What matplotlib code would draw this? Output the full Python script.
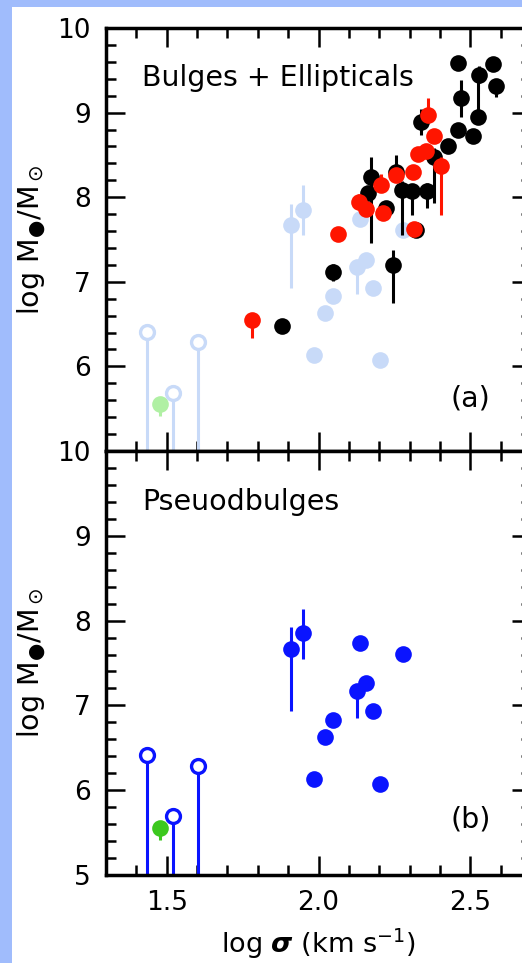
import matplotlib
matplotlib.use("Agg")
import matplotlib.pyplot as plt
from matplotlib.patches import Rectangle
from matplotlib.ticker import MultipleLocator

# ---- data: log sigma (km/s), log M_BH (Msun), lower/upper errors ----
# classical bulges
bulge_x = [2.458, 2.574, 2.530, 2.584, 2.469, 2.524, 2.337, 2.458, 2.508, 2.425, 2.380,
           2.172, 2.162, 2.255, 2.276, 2.309, 2.358, 2.222, 2.320, 2.047, 2.244, 1.879]
bulge_y = [9.59, 9.57, 9.45, 9.31, 9.17, 8.95, 8.89, 8.80, 8.72, 8.60, 8.48,
           8.24, 8.05, 8.30, 8.09, 8.07, 8.07, 7.87, 7.61, 7.11, 7.20, 6.48]
bulge_lo = [0.03, 0.05, 0.10, 0.12, 0.22, 0.05, 0.15, 0.05, 0.05, 0.05, 0.55,
            0.78, 0.05, 0.10, 0.54, 0.28, 0.20, 0.05, 0.05, 0.10, 0.45, 0.05]
bulge_hi = [0.03, 0.05, 0.10, 0.05, 0.22, 0.45, 0.15, 0.05, 0.05, 0.05, 0.10,
            0.24, 0.05, 0.20, 0.10, 0.05, 0.10, 0.05, 0.05, 0.10, 0.18, 0.05]

# ellipticals
ell_x = [2.361, 2.379, 2.328, 2.354, 2.403, 2.310, 2.255, 2.206, 2.134, 2.156,
         2.211, 2.315, 2.063, 1.782]
ell_y = [8.97, 8.72, 8.51, 8.55, 8.37, 8.30, 8.26, 8.15, 7.94, 7.86,
         7.81, 7.63, 7.57, 6.55]
ell_lo = [0.05, 0.05, 0.05, 0.05, 0.58, 0.05, 0.05, 0.05, 0.05, 0.05,
          0.05, 0.05, 0.05, 0.22]
ell_hi = [0.20, 0.05, 0.05, 0.05, 0.10, 0.05, 0.05, 0.12, 0.10, 0.05,
          0.05, 0.05, 0.05, 0.05]

# pseudobulges
pseudo_x = [1.911, 1.949, 2.137, 2.277, 2.126, 2.156, 2.180, 2.049, 2.022, 1.984, 2.203]
pseudo_y = [7.67, 7.85, 7.74, 7.61, 7.17, 7.26, 6.93, 6.83, 6.63, 6.13, 6.07]
pseudo_lo = [0.74, 0.30, 0.03, 0.03, 0.32, 0.03, 0.03, 0.03, 0.03, 0.03, 0.03]
pseudo_hi = [0.25, 0.29, 0.03, 0.03, 0.03, 0.03, 0.03, 0.03, 0.03, 0.03, 0.03]

# upper limits
limit_x = [1.434, 1.522, 1.604]
limit_y = [6.41, 5.69, 6.29]

# single green object
green_x = [1.478]
green_y = [5.56]
green_lo = [0.15]
green_hi = [0.03]

XLIM = (1.3, 2.7)
YLIM = (5, 10)

BLACK = "#000000"
RED = "#ff1500"
BLUE = "#0a14ff"
PALE_BLUE = "#c8daf8"
GREEN = "#3cc81e"
PALE_GREEN = "#b0f0a4"

FS = 19
MS = 12

plt.rcParams["font.family"] = ["DejaVu Sans"]
plt.rcParams["mathtext.fontset"] = "dejavusans"

W, H = 522, 963
fig = plt.figure(figsize=(W / 100, H / 100), dpi=100)
fig.patch.set_facecolor("#a0bcfc")
fig.add_artist(Rectangle((12 / W, 0), 1, 1 - 7 / H, transform=fig.transFigure,
                         facecolor="white", edgecolor="none", zorder=-5))

left = 106 / W
width = (531 - 106) / W
ax_top = fig.add_axes([left, 1 - 451 / H, width, (451 - 28) / H])
ax_bot = fig.add_axes([left, 1 - 875 / H, width, (875 - 451) / H])


def style(ax):
    ax.set_xlim(*XLIM)
    ax.set_ylim(*YLIM)
    ax.xaxis.set_major_locator(MultipleLocator(0.5))
    ax.xaxis.set_minor_locator(MultipleLocator(0.1))
    ax.yaxis.set_major_locator(MultipleLocator(1))
    ax.yaxis.set_minor_locator(MultipleLocator(0.2))
    ax.tick_params(which="both", direction="in", top=True, right=True,
                   width=1.8, labelsize=FS, pad=11)
    ax.tick_params(which="major", length=14)
    ax.tick_params(which="minor", length=7)
    for s in ax.spines.values():
        s.set_linewidth(2.5)


def draw_points(ax, pseudo_col, green_col, with_classical):
    eb = dict(fmt="o", ms=MS, capsize=0, elinewidth=2.2, mew=0)
    ax.errorbar(pseudo_x, pseudo_y, yerr=[pseudo_lo, pseudo_hi], color=pseudo_col,
                ecolor=pseudo_col, zorder=2, **eb)
    ax.vlines(limit_x, YLIM[0], limit_y, color=pseudo_col, lw=2.2, zorder=2)
    ax.plot(limit_x, limit_y, "o", ms=MS - 2, mfc="white", mec=pseudo_col,
            mew=2.4, zorder=3, clip_on=False)
    ax.errorbar(green_x, green_y, yerr=[green_lo, green_hi], color=green_col,
                ecolor=green_col, zorder=2, **eb)
    if with_classical:
        ax.errorbar(bulge_x, bulge_y, yerr=[bulge_lo, bulge_hi], color=BLACK,
                    ecolor=BLACK, zorder=4, **eb)
        ax.errorbar(ell_x, ell_y, yerr=[ell_lo, ell_hi], color=RED,
                    ecolor=RED, zorder=5, **eb)


style(ax_top)
style(ax_bot)

draw_points(ax_top, PALE_BLUE, PALE_GREEN, True)
draw_points(ax_bot, BLUE, GREEN, False)

ax_top.set_yticks([5, 6, 7, 8, 9, 10])
ax_top.set_yticklabels(["", "6", "7", "8", "9", "10"])
ax_top.tick_params(labelbottom=False)
ax_bot.set_yticks([5, 6, 7, 8, 9, 10])
ax_bot.set_yticklabels(["5", "6", "7", "8", "9", "10"])
ax_bot.set_xticks([1.5, 2.0, 2.5])
ax_bot.set_xticklabels(["1.5", "2.0", "2.5"])

LFS = 20.5
ax_top.text(0.085, 0.882, "Bulges + Ellipticals", transform=ax_top.transAxes,
            fontsize=LFS, ha="left", va="center")
ax_bot.text(0.085, 0.880, "Pseuodbulges", transform=ax_bot.transAxes,
            fontsize=LFS, ha="left", va="center")
ax_top.text(0.857, 0.125, "(a)", transform=ax_top.transAxes,
            fontsize=LFS, ha="center", va="center")
ax_bot.text(0.857, 0.130, "(b)", transform=ax_bot.transAxes,
            fontsize=LFS, ha="center", va="center")

ylab = r"log M$_{●}$/M$_\odot$"
fig.text(32 / W, 1 - 240 / H, ylab, rotation=90, fontsize=LFS, ha="center", va="center")
fig.text(32 / W, 1 - 663 / H, ylab, rotation=90, fontsize=LFS, ha="center", va="center")
fig.text(318 / W, 1 - 953 / H, r"log $\boldsymbol{\sigma}$ (km s$^{-1}$)", fontsize=19.5,
         ha="center", va="baseline")

fig.savefig("out.png", dpi=100, facecolor=fig.get_facecolor())
